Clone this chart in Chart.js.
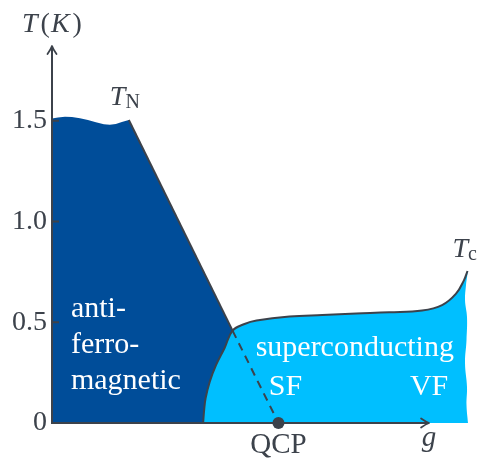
<!DOCTYPE html>
<html>
<head>
<meta charset="utf-8">
<script src="https://cdn.jsdelivr.net/npm/chart.js@4/dist/chart.umd.min.js"></script>
<style>
  html, body { margin: 0; padding: 0; background: #ffffff; }
</style>
</head>
<body>
<div style="width:477px;height:462px"><canvas id="phase" width="477" height="462"></canvas></div>
<script>
// ---- phase-diagram data: g (tuning parameter, arbitrary units) vs T (K) ----

// top of the antiferromagnetic region (slightly wavy plateau up to T_N)
const neelPlateau = [
  [0.00, 1.511], [0.06, 1.516], [0.13, 1.519], [0.20, 1.518], [0.28, 1.512],
  [0.36, 1.503], [0.44, 1.492], [0.52, 1.482], [0.58, 1.479], [0.64, 1.483],
  [0.70, 1.493], [0.77, 1.503]
];
// T_N line: from the plateau corner down through the dome edge to the QCP
const neelCorner = [0.77, 1.503];
const neelJunction = [1.81, 0.458];
const qcpPoint = [2.27, 0];

// superconducting dome boundary (T_c)
const scBoundary = [
  [1.515, 0.000], [1.525, 0.064], [1.540, 0.124], [1.580, 0.203], [1.645, 0.288],
  [1.730, 0.372], [1.810, 0.458], [1.930, 0.491], [2.050, 0.508], [2.380, 0.528],
  [2.710, 0.536], [3.050, 0.543], [3.380, 0.549], [3.710, 0.558], [3.910, 0.585],
  [4.050, 0.642], [4.130, 0.709], [4.165, 0.754]
];
// open (cut) right edge of the superconducting region
const scCutEdge = [
  [4.150, 0.684], [4.140, 0.610], [4.160, 0.526], [4.155, 0.412],
  [4.140, 0.298], [4.160, 0.179], [4.155, 0.089], [4.170, 0.000]
];

// y axis
const yTicks = [0, 0.5, 1.0, 1.5];
const yTickLabels = ['0', '0.5', '1.0', '1.5'];

// text drawn on the diagram
const afLines = ['anti-', 'ferro-', 'magnetic'];
const scLines = ['superconducting', 'SF', 'VF'];
const qcpText = 'QCP';
const gText = 'g';

// ---- styling / layout ----
const DARK = '#004d99';
const LIGHT = '#00bfff';
const INK = '#3c424b';
const FAMILY = '"Liberation Serif"';
const X_ARROW = 3.78;   // end of g axis arrow
const Y_ARROW = 1.87;   // end of T axis arrow

// label anchors in data units [g, T]
const afPos = [[0.19, 0.526], [0.19, 0.347], [0.19, 0.169]];
const scPos = [[3.035, 0.332], [2.34, 0.139], [3.78, 0.139]];

const xy = arr => arr.map(([x, y]) => ({ x, y }));
const roman = sz => sz + 'px ' + FAMILY;
const italic = sz => 'italic ' + sz + 'px ' + FAMILY;

const decor = {
  id: 'decor',
  afterDatasetDraw(chart, args) {
    if (args.index !== 1) return;   // axes go above the filled regions, below the lines
    const { ctx, scales: { x, y } } = chart;
    const x0 = x.getPixelForValue(0), y0 = y.getPixelForValue(0);
    const xe = x.getPixelForValue(X_ARROW), ye = y.getPixelForValue(Y_ARROW);
    ctx.save();
    ctx.strokeStyle = INK;
    ctx.lineWidth = 2;
    ctx.beginPath();
    ctx.moveTo(x0 - 1, y0); ctx.lineTo(xe - 1, y0);
    ctx.moveTo(x0, y0); ctx.lineTo(x0, ye + 1);
    ctx.stroke();
    // tick marks point into the plot
    ctx.beginPath();
    y.ticks.forEach(t => {
      if (t.value === 0) return;
      const py = y.getPixelForValue(t.value);
      ctx.moveTo(x0, py); ctx.lineTo(x0 + 7, py);
    });
    ctx.stroke();
    // arrow heads
    const head = (px, py, ang) => {
      ctx.save();
      ctx.translate(px, py); ctx.rotate(ang);
      ctx.lineJoin = 'round'; ctx.lineCap = 'round';
      ctx.lineWidth = 1.8;
      ctx.beginPath();
      ctx.moveTo(-8, -4.5); ctx.quadraticCurveTo(-3, -1, 0, 0);
      ctx.quadraticCurveTo(-3, 1, -8, 4.5);
      ctx.stroke();
      ctx.restore();
    };
    head(xe, y0, 0);
    head(x0, ye, -Math.PI / 2);
    ctx.restore();
  },
  afterDraw(chart) {
    const { ctx, scales: { x, y } } = chart;
    const P = (g, t) => [x.getPixelForValue(g), y.getPixelForValue(t)];
    ctx.save();
    ctx.textBaseline = 'alphabetic';
    const write = (s, px, py, font, color, align) => {
      ctx.font = font; ctx.fillStyle = color; ctx.textAlign = align || 'left';
      ctx.fillText(s, px, py);
    };

    // phase names
    afLines.forEach((s, i) => { const [px, py] = P(...afPos[i]); write(s, px, py, roman(30), '#ffffff'); });
    scLines.forEach((s, i) => { const [px, py] = P(...scPos[i]); write(s, px, py, roman(30), '#ffffff', 'center'); });

    // QCP and g under the axis
    write(qcpText, x.getPixelForValue(qcpPoint[0]), y.getPixelForValue(0) + 30, roman(29), INK, 'center');
    write(gText, x.getPixelForValue(X_ARROW), y.getPixelForValue(0) + 23, italic(29), INK, 'center');

    // axis title T(K), centred over the T axis (math-style spacing between pieces)
    const parts = [['T', italic(28), 3], ['(', roman(28), 1], ['K', italic(28), 3], [')', roman(28), 0]];
    let w = 0;
    parts.forEach(([s, f, gap]) => { ctx.font = f; w += ctx.measureText(s).width + gap; });
    let cx = x.getPixelForValue(0) - w / 2;
    parts.forEach(([s, f, gap]) => { write(s, cx, 32, f, INK); ctx.font = f; cx += ctx.measureText(s).width + gap; });

    // T_N near the plateau corner, T_c at the end of the dome line
    const sub = (main, subs, px, py) => {
      write(main, px, py, italic(28), INK);
      ctx.font = italic(28);
      const mw = ctx.measureText(main).width;
      write(subs, px + mw, py + 3, roman(20), INK);
    };
    const [nx] = P(neelCorner[0], 0);
    sub('T', 'N', nx - 19, y.getPixelForValue(neelCorner[1]) - 15);
    const last = scBoundary[scBoundary.length - 1];
    sub('T', 'c', x.getPixelForValue(last[0]) - 15, y.getPixelForValue(last[1]) - 14);
    ctx.restore();
  }
};

new Chart(document.getElementById('phase'), {
  type: 'line',
  data: {
    datasets: [
      { // antiferromagnetic region
        data: xy([...neelPlateau, qcpPoint]),
        fill: 'origin', backgroundColor: DARK, borderWidth: 0,
        pointRadius: 0, tension: 0, order: 6
      },
      { // superconducting region
        data: xy([...scBoundary, ...scCutEdge]),
        fill: 'origin', backgroundColor: LIGHT, borderWidth: 0,
        pointRadius: 0, tension: 0.4, order: 5
      },
      { // T_N line (solid part)
        data: xy([neelCorner, neelJunction]),
        fill: false, borderColor: INK, borderWidth: 2, pointRadius: 0, tension: 0, order: 3
      },
      { // T_N line continued inside the dome
        data: xy([neelJunction, qcpPoint]),
        fill: false, borderColor: INK, borderWidth: 2, borderDash: [8, 6],
        pointRadius: 0, tension: 0, order: 3
      },
      { // T_c boundary
        data: xy(scBoundary),
        fill: false, borderColor: INK, borderWidth: 2, pointRadius: 0, tension: 0.4, order: 2
      },
      { // quantum critical point
        data: xy([qcpPoint]),
        showLine: false, pointRadius: 6, pointBackgroundColor: INK, pointBorderWidth: 0,
        clip: false, order: 0
      }
    ]
  },
  options: {
    responsive: false,
    animation: false,
    layout: { padding: { left: 0, right: 5, top: 40, bottom: 39 } },
    plugins: { legend: { display: false }, tooltip: { enabled: false } },
    scales: {
      x: { type: 'linear', min: 0, max: 4.2, display: false },
      y: {
        type: 'linear', min: 0, max: 1.9,
        afterFit(s) { s.width = 52; },
        afterBuildTicks(s) { s.ticks = yTicks.map(v => ({ value: v })); },
        grid: { display: false, drawTicks: false },
        border: { display: false },
        ticks: {
          padding: 5,
          color: INK,
          font: { family: FAMILY, size: 28 },
          callback: (v, i) => yTickLabels[i]
        }
      }
    }
  },
  plugins: [decor]
});
</script>
</body>
</html>
